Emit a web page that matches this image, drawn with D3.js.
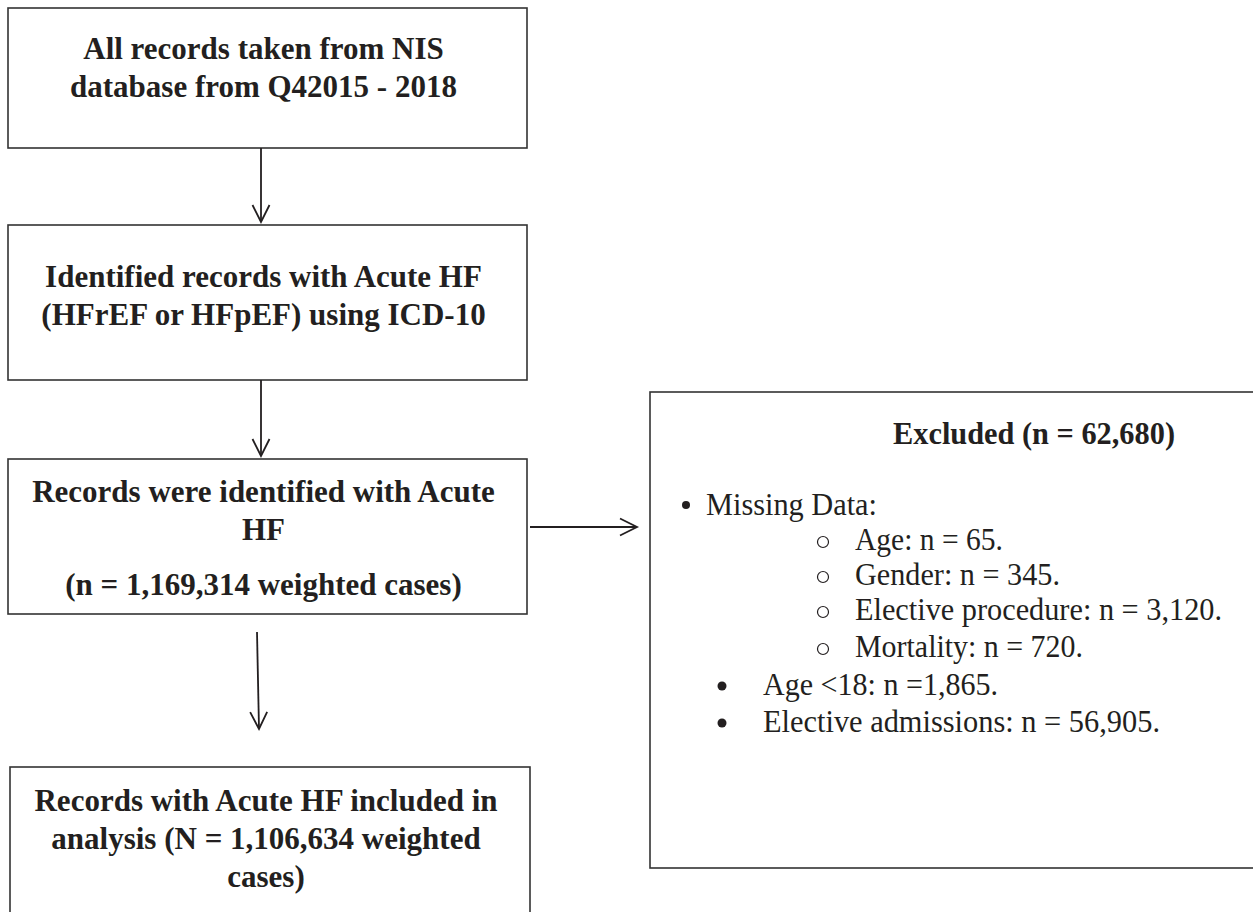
<!DOCTYPE html>
<html>
<head>
<meta charset="utf-8">
<script src="https://cdn.jsdelivr.net/npm/d3@7"></script>
<style>
  html, body { margin: 0; padding: 0; background: #fff; }
  svg { display: block; }
</style>
</head>
<body>
<svg id="chart" width="1253" height="912"></svg>
<script>
// ---- data ----
const stepLines = [
  ["All records taken from NIS", "database from Q42015 - 2018"],
  ["Identified records with Acute HF", "(HFrEF or HFpEF) using ICD-10"],
  ["Records were identified with Acute", "HF", "(n = 1,169,314 weighted cases)"],
  ["Records with Acute HF included in", "analysis (N = 1,106,634 weighted", "cases)"]
];
const excludedTitle = "Excluded (n = 62,680)";
const missingHeader = "Missing Data:";
const missingItems = ["Age: n = 65.", "Gender: n = 345.", "Elective procedure: n = 3,120.", "Mortality: n = 720."];
const otherItems = ["Age <18: n =1,865.", "Elective admissions: n = 56,905."];

// ---- layout ----
const svg = d3.select("#chart");
const ink = "#231f20";
const serif = "'Liberation Serif', 'Times New Roman', serif";

const boxes = [
  {x: 8, y: 8, w: 519, h: 140, lineY: [48, 86]},
  {x: 8, y: 225, w: 519, h: 155, lineY: [276, 314]},
  {x: 8, y: 459, w: 519, h: 155, lineY: [491, 529, 584]},
  {x: 10, y: 767, w: 520, h: 160, lineY: [800, 838, 876]}
];
const exBox = {x: 650, y: 392, w: 620, h: 476};

boxes.forEach((b, i) => {
  svg.append("rect")
    .attr("x", b.x).attr("y", b.y).attr("width", b.w).attr("height", b.h)
    .attr("fill", "none").attr("stroke", "#333").attr("stroke-width", 1.6);
  const cx = b.x + b.w / 2 - 4;
  svg.selectAll(null).data(stepLines[i]).enter().append("text")
    .attr("x", cx)
    .attr("y", (d, j) => b.lineY[j])
    .attr("dy", "0.35em")
    .attr("text-anchor", "middle")
    .attr("font-family", serif)
    .attr("font-weight", "bold")
    .attr("font-size", 31)
    .attr("fill", ink)
    .text(d => d);
});

svg.append("rect")
  .attr("x", exBox.x).attr("y", exBox.y).attr("width", exBox.w).attr("height", exBox.h)
  .attr("fill", "none").attr("stroke", "#333").attr("stroke-width", 1.6);

// arrows
const arrows = [
  [[261, 148], [261, 222]],
  [[261, 380], [261, 456]],
  [[257, 632], [259, 729]],
  [[530, 527], [637, 527]]
];
arrows.forEach(([a, b]) => {
  svg.append("line").attr("x1", a[0]).attr("y1", a[1]).attr("x2", b[0]).attr("y2", b[1])
    .attr("stroke", ink).attr("stroke-width", 1.8);
  const ang = Math.atan2(b[1] - a[1], b[0] - a[0]);
  const L = 17, W = 8.5;
  const ux = Math.cos(ang), uy = Math.sin(ang);
  const p1 = [b[0] - ux * L - uy * W, b[1] - uy * L + ux * W];
  const p2 = [b[0] - ux * L + uy * W, b[1] - uy * L - ux * W];
  svg.append("path")
    .attr("d", d3.line()([p1, b, p2]))
    .attr("fill", "none").attr("stroke", ink).attr("stroke-width", 1.8);
});

// excluded box text (baselines)
svg.append("text")
  .attr("x", 893).attr("y", 444)
  .attr("font-family", serif).attr("font-weight", "bold").attr("font-size", 31)
  .attr("textLength", 282).attr("lengthAdjust", "spacingAndGlyphs")
  .attr("fill", ink).text(excludedTitle);

const itemFont = 31;
svg.append("circle").attr("cx", 686).attr("cy", 505).attr("r", 4).attr("fill", ink);
svg.append("text")
  .attr("x", 706).attr("y", 515)
  .attr("font-family", serif).attr("font-size", itemFont)
  .attr("textLength", 171).attr("lengthAdjust", "spacingAndGlyphs")
  .attr("fill", ink).text(missingHeader);

const missY = [550, 585, 620, 657];
const missW = [148, 205, 367, 228];
svg.selectAll(null).data(missingItems).enter().append("circle")
  .attr("cx", 823).attr("cy", (d, i) => missY[i] - 8).attr("r", 5.5)
  .attr("fill", "none").attr("stroke", ink).attr("stroke-width", 1.2);
svg.selectAll(null).data(missingItems).enter().append("text")
  .attr("x", 855).attr("y", (d, i) => missY[i])
  .attr("font-family", serif).attr("font-size", itemFont)
  .attr("textLength", (d, i) => missW[i]).attr("lengthAdjust", "spacingAndGlyphs")
  .attr("fill", ink).text(d => d);

const otherY = [695, 732];
const otherW = [235, 397];
svg.selectAll(null).data(otherItems).enter().append("circle")
  .attr("cx", 722).attr("cy", (d, i) => otherY[i] - 9).attr("r", 4.5)
  .attr("fill", ink);
svg.selectAll(null).data(otherItems).enter().append("text")
  .attr("x", 763).attr("y", (d, i) => otherY[i])
  .attr("font-family", serif).attr("font-size", itemFont)
  .attr("textLength", (d, i) => otherW[i]).attr("lengthAdjust", "spacingAndGlyphs")
  .attr("fill", ink).text(d => d);
</script>
</body>
</html>
